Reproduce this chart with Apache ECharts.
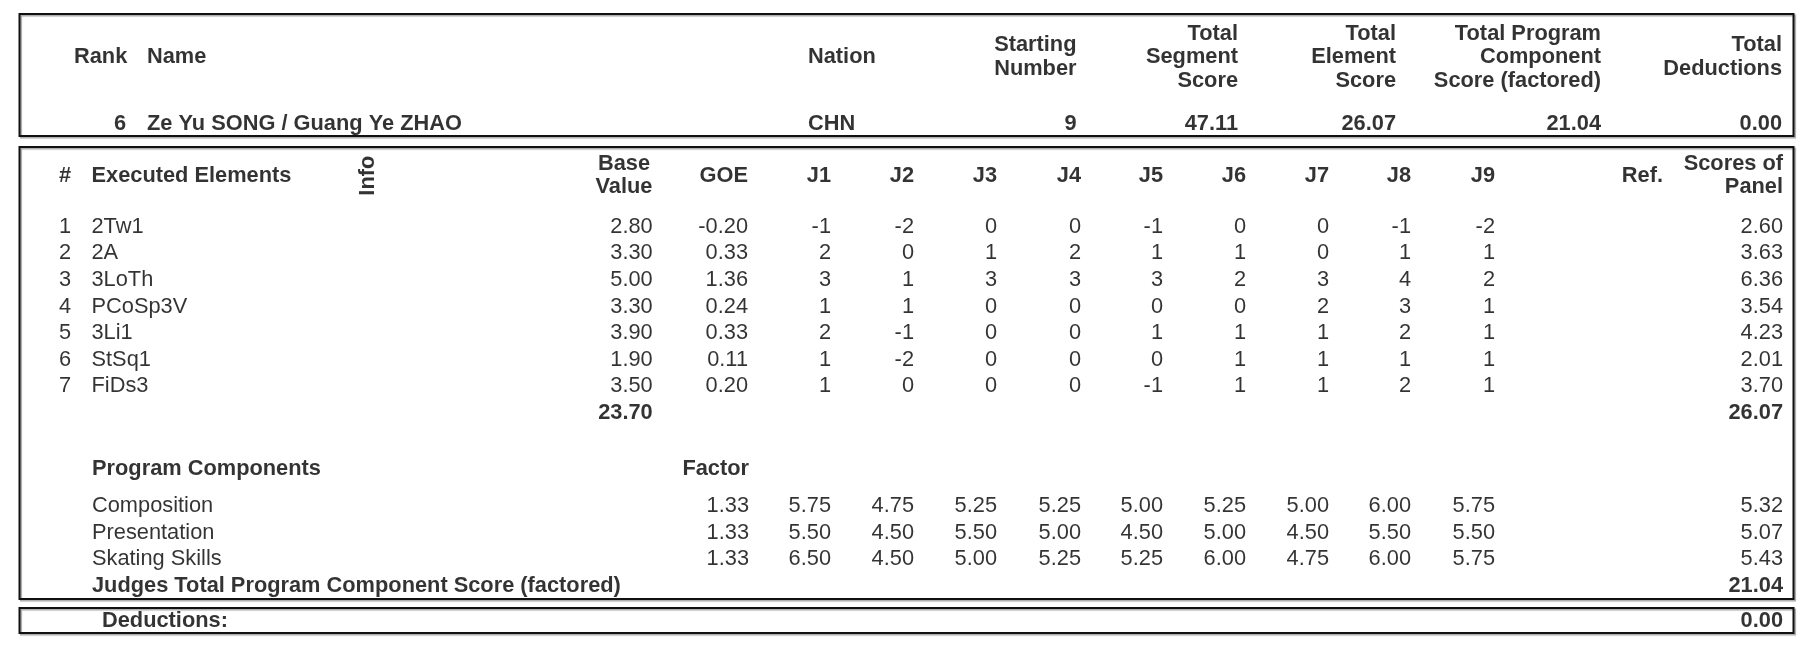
<!DOCTYPE html>
<html lang="en">
<head>
    <meta charset="UTF-8">
    <title>Judges Details per Skater</title>
    <style>
        html,body{
            width: 100%;
            height: 100%;
            margin: 0;
            padding: 0;
            background: #fff;
        }
        #chart{
            width: 1814px;
            height: 649px;
        }
    </style>
</head>
<body>
    <div id="chart"></div>
    <script src="https://cdn.jsdelivr.net/npm/echarts@6/dist/echarts.min.js"></script>
    <script>
        // skater summary
        var rank = 6;
        var skaterName = 'Ze Yu SONG / Guang Ye ZHAO';
        var nation = 'CHN';
        var startingNumber = 9;
        var totalSegmentScore = 47.11;
        var totalElementScore = 26.07;
        var totalComponentScore = 21.04;
        var totalDeductions = 0.00;

        // executed elements
        var elements = ['2Tw1', '2A', '3LoTh', 'PCoSp3V', '3Li1', 'StSq1', 'FiDs3'];
        var baseValues = [2.80, 3.30, 5.00, 3.30, 3.90, 1.90, 3.50];
        var goeValues = [-0.20, 0.33, 1.36, 0.24, 0.33, 0.11, 0.20];
        var judgeGoe = [
            [-1, -2, 0, 0, -1, 0, 0, -1, -2],
            [2, 0, 1, 2, 1, 1, 0, 1, 1],
            [3, 1, 3, 3, 3, 2, 3, 4, 2],
            [1, 1, 0, 0, 0, 0, 2, 3, 1],
            [2, -1, 0, 0, 1, 1, 1, 2, 1],
            [1, -2, 0, 0, 0, 1, 1, 1, 1],
            [1, 0, 0, 0, -1, 1, 1, 2, 1]
        ];
        var panelScores = [2.60, 3.63, 6.36, 3.54, 4.23, 2.01, 3.70];
        var baseTotal = 23.70;

        // program components
        var components = ['Composition', 'Presentation', 'Skating Skills'];
        var factors = [1.33, 1.33, 1.33];
        var componentMarks = [
            [5.75, 4.75, 5.25, 5.25, 5.00, 5.25, 5.00, 6.00, 5.75],
            [5.50, 4.50, 5.50, 5.00, 4.50, 5.00, 4.50, 5.50, 5.50],
            [6.50, 4.50, 5.00, 5.25, 5.25, 6.00, 4.75, 6.00, 5.75]
        ];
        var componentPanel = [5.32, 5.07, 5.43];

        var judges = ['J1', 'J2', 'J3', 'J4', 'J5', 'J6', 'J7', 'J8', 'J9'];

        // layout (pixel units of the hidden axes)
        var W = 1814, H = 649;
        var judgeX = [831, 914, 997, 1081, 1163, 1246, 1329, 1411, 1495];
        var topHeadY = 57, topRowY = 124;
        var elHeadY = 175.7, elRowY = 226.7, pitch = 26.6;
        var pcHeadY = 469.3, pcRowY = 506;
        var dedY = 620.7;

        function f2(v){ return v.toFixed(2); }

        var cells = [];
        function cell(x, y, text, align, bold, extra){
            var label = {
                align: align,
                fontWeight: bold ? 'bold' : 'normal'
            };
            if (extra) { for (var k in extra) label[k] = extra[k]; }
            cells.push({ name: String(text), value: [x, y], label: label });
        }

        // top box
        cell(74, topHeadY, 'Rank', 'left', true);
        cell(147, topHeadY, 'Name', 'left', true);
        cell(808, topHeadY, 'Nation', 'left', true);
        cell(1076.5, topHeadY, 'Starting\nNumber', 'right', true);
        cell(1238, topHeadY, 'Total\nSegment\nScore', 'right', true);
        cell(1396, topHeadY, 'Total\nElement\nScore', 'right', true);
        cell(1601, topHeadY, 'Total Program\nComponent\nScore (factored)', 'right', true);
        cell(1782, topHeadY, 'Total\nDeductions', 'right', true);

        cell(126, topRowY, rank, 'right', true);
        cell(147, topRowY, skaterName, 'left', true);
        cell(808, topRowY, nation, 'left', true);
        cell(1076.5, topRowY, startingNumber, 'right', true);
        cell(1238, topRowY, f2(totalSegmentScore), 'right', true);
        cell(1396, topRowY, f2(totalElementScore), 'right', true);
        cell(1601, topRowY, f2(totalComponentScore), 'right', true);
        cell(1782, topRowY, f2(totalDeductions), 'right', true);

        // elements header
        cell(65, elHeadY, '#', 'center', true);
        cell(91.5, elHeadY, 'Executed Elements', 'left', true);
        cell(368, elHeadY, 'Info', 'center', true, { rotate: 90 });
        cell(624, elHeadY, 'Base\nValue', 'center', true);
        cell(748, elHeadY, 'GOE', 'right', true);
        judges.forEach(function (j, i) { cell(judgeX[i], elHeadY, j, 'right', true); });
        cell(1663, elHeadY, 'Ref.', 'right', true);
        cell(1783, elHeadY, 'Scores of\nPanel', 'right', true);

        elements.forEach(function (el, r) {
            var y = elRowY + r * pitch;
            cell(65, y, r + 1, 'center', false);
            cell(91.5, y, el, 'left', false);
            cell(652.7, y, f2(baseValues[r]), 'right', false);
            cell(748, y, f2(goeValues[r]), 'right', false);
            judgeGoe[r].forEach(function (g, i) { cell(judgeX[i], y, g, 'right', false); });
            cell(1783, y, f2(panelScores[r]), 'right', false);
        });
        var elTotalY = elRowY + elements.length * pitch;
        cell(652.7, elTotalY, f2(baseTotal), 'right', true);
        cell(1783, elTotalY, f2(totalElementScore), 'right', true);

        // program components
        cell(92, pcHeadY, 'Program Components', 'left', true);
        cell(749, pcHeadY, 'Factor', 'right', true);
        components.forEach(function (c, r) {
            var y = pcRowY + r * pitch;
            cell(92, y, c, 'left', false);
            cell(749, y, f2(factors[r]), 'right', false);
            componentMarks[r].forEach(function (m, i) { cell(judgeX[i], y, f2(m), 'right', false); });
            cell(1783, y, f2(componentPanel[r]), 'right', false);
        });
        var pcTotalY = pcRowY + components.length * pitch;
        cell(92, pcTotalY, 'Judges Total Program Component Score (factored)', 'left', true);
        cell(1783, pcTotalY, f2(totalComponentScore), 'right', true);

        // deductions
        cell(102, dedY, 'Deductions:', 'left', true);
        cell(1783, dedY, f2(totalDeductions), 'right', true);

        var boxStyle = {
            fill: 'none',
            stroke: '#111',
            lineWidth: 2,
            shadowColor: 'rgba(0,0,0,0.35)',
            shadowOffsetX: 1.5,
            shadowOffsetY: 1.5,
            shadowBlur: 1
        };
        function box(y0, y1){
            return { type: 'rect', shape: { x: 19.5, y: y0, width: 1774, height: y1 - y0 }, style: boxStyle, silent: true };
        }

        var myChart = echarts.init(document.getElementById('chart'), null, { renderer: 'canvas' });
        myChart.setOption({
            backgroundColor: '#fff',
            animation: false,
            grid: { left: 0, right: 0, top: 0, bottom: 0 },
            xAxis: { type: 'value', min: 0, max: W, show: false },
            yAxis: { type: 'value', min: 0, max: H, inverse: true, show: false },
            graphic: [box(14, 136), box(147, 599), box(608, 633)],
            series: [{
                type: 'scatter',
                symbolSize: 0,
                silent: true,
                label: {
                    show: true,
                    position: 'inside',
                    formatter: '{b}',
                    color: '#000',
                    fontFamily: '"Liberation Sans", Arial, sans-serif',
                    fontSize: 21.8,
                    lineHeight: 23.5,
                    verticalAlign: 'middle'
                },
                data: cells
            }]
        });
    </script>
</body>
</html>
